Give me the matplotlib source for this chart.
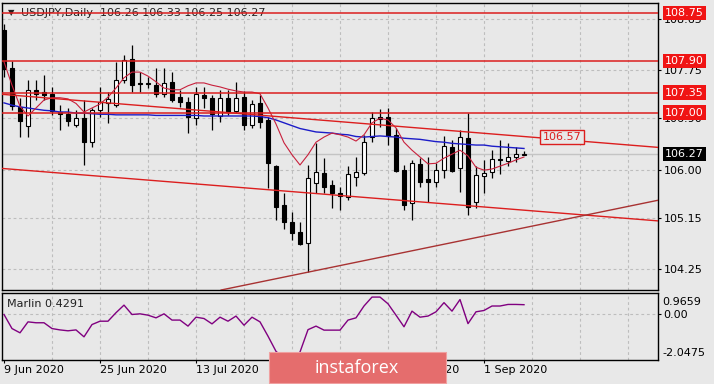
import matplotlib
matplotlib.use('Agg')
import matplotlib.pyplot as plt
import matplotlib.transforms as mtransforms
from matplotlib.patches import Rectangle
import numpy as np

W, H = 714, 384
BG = '#e8e8e8'
RED = '#dc1e1e'

# ---------------- data ----------------
date_labels = ['9 Jun 2020', '25 Jun 2020', '13 Jul 2020', '29 Jul 2020', '14 Aug 2020', '1 Sep 2020']
date_bars = [0, 12, 24, 36, 48, 60]

opens = [108.45, 107.78, 107.10, 106.76, 107.40, 107.36, 107.33, 107.01, 106.97, 106.78,
         106.90, 106.48, 107.04, 107.17, 107.13, 107.57, 107.94, 107.52, 107.50, 107.48,
         107.33, 107.54, 107.27, 107.18, 106.90, 107.31, 107.26, 106.94, 107.26, 107.03,
         107.27, 106.78, 107.17, 106.87, 106.06, 105.37, 105.08, 104.90, 104.71, 105.76,
         105.94, 105.73, 105.59, 105.52, 105.87, 105.94, 106.57, 106.92, 106.92, 106.61,
         105.99, 105.41, 106.10, 105.83, 105.78, 105.99, 106.39, 106.03, 106.55, 105.43,
         105.88, 105.95, 106.19, 106.15, 106.22, 106.26]
highs = [108.55, 107.90, 107.26, 107.57, 107.57, 107.66, 107.45, 107.13, 107.08, 107.04,
         107.22, 107.08, 107.45, 107.36, 107.89, 108.01, 108.19, 107.71, 107.62, 107.78,
         107.78, 107.71, 107.40, 107.27, 107.45, 107.45, 107.31, 107.40, 107.40, 107.54,
         107.38, 107.22, 107.31, 106.92, 106.08, 105.59, 105.25, 105.08, 106.08, 106.46,
         106.20, 105.81, 105.69, 106.06, 106.22, 106.61, 107.01, 107.06, 107.08, 106.73,
         106.08, 106.17, 106.20, 106.22, 106.11, 106.59, 106.52, 106.69, 106.99, 106.06,
         106.17, 106.34, 106.52, 106.46, 106.39, 106.33]
lows = [107.62, 107.05, 106.57, 106.57, 107.22, 107.22, 106.96, 106.69, 106.76, 106.75,
        106.08, 106.39, 106.92, 106.82, 107.10, 107.52, 107.36, 107.36, 107.43, 107.27,
        107.27, 107.19, 107.10, 106.64, 106.78, 107.08, 106.69, 106.83, 106.96, 107.00,
        106.69, 106.73, 106.73, 105.67, 105.11, 104.95, 104.76, 104.67, 104.21, 105.59,
        105.59, 105.32, 105.29, 105.46, 105.71, 105.90, 106.48, 106.75, 106.43, 105.95,
        105.29, 105.11, 105.69, 105.43, 105.69, 105.85, 105.95, 105.60, 105.20, 105.32,
        105.59, 105.85, 105.92, 106.06, 106.13, 106.25]
closes = [107.76, 107.12, 106.85, 107.40, 107.33, 107.31, 107.03, 106.97, 106.86, 106.90,
          106.49, 107.04, 107.18, 107.24, 107.57, 107.92, 107.48, 107.50, 107.51, 107.33,
          107.52, 107.22, 107.18, 106.92, 107.33, 107.26, 106.98, 107.26, 107.01, 107.26,
          106.78, 107.15, 106.83, 106.11, 105.34, 105.08, 104.88, 104.69, 105.85, 105.95,
          105.69, 105.59, 105.53, 105.92, 105.95, 106.48, 106.90, 106.89, 106.59, 105.97,
          105.37, 106.11, 105.78, 105.79, 105.99, 106.41, 105.97, 106.57, 105.34, 105.90,
          105.94, 106.18, 106.16, 106.22, 106.27, 106.27]

ma_fast = [107.89, 107.48, 107.11, 106.94, 107.08, 107.22, 107.26, 107.26, 107.24, 107.16,
           107.01, 107.08, 107.15, 107.27, 107.43, 107.61, 107.71, 107.71, 107.64, 107.54,
           107.43, 107.40, 107.40, 107.47, 107.52, 107.52, 107.48, 107.45, 107.41, 107.38,
           107.36, 107.36, 107.33, 107.08, 106.80, 106.47, 106.26, 106.08, 106.26, 106.48,
           106.57, 106.64, 106.61, 106.57, 106.50, 106.61, 106.82, 106.90, 106.87, 106.73,
           106.48, 106.34, 106.22, 106.10, 106.11, 106.20, 106.27, 106.34, 106.24, 106.04,
           105.99, 106.01, 106.06, 106.11, 106.17, 106.22]
ma_slow = [107.17, 107.13, 107.10, 107.08, 107.06, 107.04, 107.03, 107.01, 107.01, 106.99,
           106.99, 106.98, 106.97, 106.97, 106.96, 106.96, 106.96, 106.96, 106.96, 106.95,
           106.95, 106.95, 106.95, 106.95, 106.95, 106.94, 106.94, 106.94, 106.94, 106.94,
           106.94, 106.94, 106.93, 106.91, 106.87, 106.82, 106.77, 106.72, 106.69, 106.66,
           106.65, 106.64, 106.62, 106.61, 106.58, 106.57, 106.58, 106.59, 106.58, 106.57,
           106.55, 106.54, 106.53, 106.51, 106.49, 106.48, 106.46, 106.45, 106.44, 106.43,
           106.43, 106.41, 106.40, 106.39, 106.38, 106.37]

marlin = [-0.01, -0.64, -0.83, -0.34, -0.38, -0.38, -0.64, -0.70, -0.74, -0.70,
          -1.01, -0.46, -0.31, -0.31, 0.07, 0.41, -0.01, 0.02, -0.04, -0.16,
          0.02, -0.26, -0.26, -0.53, -0.13, -0.19, -0.43, -0.13, -0.31, -0.08,
          -0.49, -0.13, -0.34, -0.98, -1.66, -1.96, -2.05, -1.69, -0.69, -0.53,
          -0.71, -0.71, -0.71, -0.26, -0.16, 0.37, 0.77, 0.77, 0.47, -0.04,
          -0.56, 0.14, -0.13, -0.08, 0.11, 0.52, 0.14, 0.66, -0.42, 0.11,
          0.17, 0.37, 0.37, 0.44, 0.44, 0.4291]
marlin_max, marlin_min = 0.9659, -2.0475

level_values = [108.75, 107.90, 107.35, 107.00]
level_labels = ['108.75', '107.90', '107.35', '107.00']
price_ticks = [104.25, 105.15, 106.00, 106.90, 107.75, 108.65]
last_price = 106.27
upper_line = [(-0.25, 107.32), (81.7, 106.39)]
lower_line = [(-0.25, 106.02), (81.7, 105.10)]
support_line = [(38, 104.20), (81.7, 105.46)]
upper_label_bar, upper_label_value = 69.75, 106.57
header = 'USDJPY,Daily  106.26 106.33 106.25 106.27'
ind_name = 'Marlin 0.4291'

# ---------------- figure ----------------
plt.rcParams['font.family'] = ['DejaVu Sans']
fig = plt.figure(figsize=(W / 100, H / 100), dpi=100, facecolor=BG)

def fx(px):
    return px / W

def fy(py):
    return 1 - py / H

left_px, right_px = 2, 657.5
ax = fig.add_axes([fx(left_px), fy(290), fx(right_px - left_px), (290 - 2.5) / H])
axi = fig.add_axes([fx(left_px), fy(360), fx(right_px - left_px), (360 - 292.7) / H])

xmin = (left_px - 4) / 8
xmax = (right_px - 4) / 8
for a in (ax, axi):
    a.set_facecolor(BG)
    a.set_xlim(xmin, xmax)
    for s in a.spines.values():
        s.set_color('black')
        s.set_linewidth(1.0)

ax.set_ylim(103.887, 108.931)
axi.set_ylim(marlin_min, marlin_max)

grid_kw = dict(color='#bdbdbd', lw=0.8, dashes=(2.5, 2.5), zorder=0.5)
grid_bars = np.arange(6, 80, 6)
for gb in grid_bars:
    ax.axvline(gb, **grid_kw)
    axi.axvline(gb, **grid_kw)
for t in price_ticks:
    ax.axhline(t, **grid_kw)
axi.axhline(0, **grid_kw)

# current price line
ax.axhline(last_price, color='#c4c4c4', lw=1.0, zorder=0.8)

# candles
x = np.arange(len(opens))
o = np.array(opens)
c = np.array(closes)
up = c >= o
ax.vlines(x, lows, highs, color='black', lw=0.9, zorder=2)
blo = np.minimum(o, c)
bh = np.abs(c - o)
ax.bar(x[up], bh[up], bottom=blo[up], width=0.6, color='white', edgecolor='black', lw=0.8, zorder=2.5)
ax.bar(x[~up], bh[~up], bottom=blo[~up], width=0.6, color='black', edgecolor='black', lw=0.8, zorder=2.5)

# moving averages
ax.plot(x, ma_slow, color='#1c1cc8', lw=1.0, zorder=3)
ax.plot(x, ma_fast, color='#c8203c', lw=0.8, zorder=3)

# levels and trend lines
for v in level_values:
    ax.axhline(v, color=RED, lw=1.1, zorder=3.2)
ax.axline(upper_line[0], upper_line[1], color=RED, lw=1.0, zorder=3.2)
ax.axline(lower_line[0], lower_line[1], color=RED, lw=1.0, zorder=3.2)
ax.axline(support_line[0], support_line[1], color='#a83232', lw=1.0, zorder=3.2)
ax.text(upper_label_bar, upper_label_value, f'{upper_label_value:.2f}', color=RED, fontsize=8,
        ha='center', va='center', zorder=4,
        bbox=dict(boxstyle='square,pad=0.2', fc=BG, ec=RED, lw=1.0))

# right price axis
ax.yaxis.tick_right()
ax.set_yticks(price_ticks)
ax.set_yticklabels([f'{t:.2f}' for t in price_ticks])
ax.tick_params(axis='y', length=2.2, pad=2.2, labelsize=8, colors='black', width=0.8)
ax.set_xticks([])

blend = mtransforms.blended_transform_factory(ax.transAxes, ax.transData)
lab_x = (665 - left_px) / (right_px - left_px)
for v, lbl in zip(level_values, level_labels):
    ax.text(lab_x, v, lbl, transform=blend, color='white', fontsize=8, ha='left', va='center',
            zorder=6, clip_on=False,
            bbox=dict(boxstyle='square,pad=0.2', fc='#f01414', ec='none'))
ax.text(lab_x, last_price, f'{last_price:.2f}', transform=blend, color='white', fontsize=8,
        ha='left', va='center', zorder=6, clip_on=False,
        bbox=dict(boxstyle='square,pad=0.2', fc='black', ec='none'))

# header
ax_h = 290 - 2.5
ax.text((11 - left_px) / (right_px - left_px), (290 - 13) / ax_h,
        '\u25bc', transform=ax.transAxes, fontsize=6, color='#202020', ha='center', va='center', zorder=2.8)
ax.text((21 - left_px) / (right_px - left_px), (290 - 13) / ax_h, header,
        transform=ax.transAxes, fontsize=8, color='#202020', ha='left', va='center', zorder=2.8)

# indicator
axi.plot(x, marlin, color='#800080', lw=1.0, zorder=3)
axi.yaxis.tick_right()
axi.set_yticks([0])
axi.set_yticklabels(['0.00'])
axi.tick_params(axis='y', length=2.2, pad=2.2, labelsize=8, colors='black', width=0.8)
lab_xi = (662 - left_px) / (right_px - left_px)
axi.text(lab_xi, (360 - 301.7) / 67.3, f'{marlin_max:.4f}', transform=axi.transAxes,
         fontsize=8, ha='left', va='center', clip_on=False)
axi.text(lab_xi, (360 - 352.7) / 67.3, f'{marlin_min:.4f}', transform=axi.transAxes,
         fontsize=8, ha='left', va='center', clip_on=False)
axi.text((7 - left_px) / (right_px - left_px), (360 - 304) / 67.3, ind_name,
         transform=axi.transAxes, fontsize=8, ha='left', va='center', color='#202020')

axi.set_xticks(date_bars)
axi.set_xticklabels(date_labels)
for lbl in axi.get_xticklabels():
    lbl.set_ha('left')
axi.tick_params(axis='x', length=2.2, pad=1.5, labelsize=8, colors='black', width=0.8)

# watermark
fig.add_artist(Rectangle((fx(269), fy(383)), fx(446 - 269), (383 - 352) / H,
                         transform=fig.transFigure, facecolor='#e56d6d', edgecolor='#f0a0a0',
                         lw=0.8, zorder=10))
fig.text(fx(357), fy(368), 'instaforex', color='white', fontsize=13, ha='center', va='center',
         family=['Open Sans', 'DejaVu Sans'], zorder=11)

fig.savefig('out.png', dpi=100, facecolor=BG)
